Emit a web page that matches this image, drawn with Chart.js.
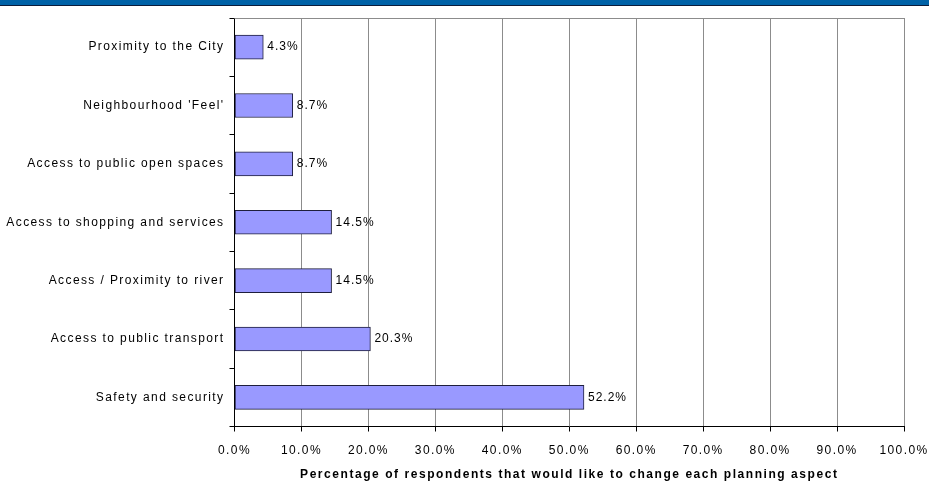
<!DOCTYPE html>
<html>
<head>
<meta charset="utf-8">
<script src="https://cdn.jsdelivr.net/npm/chart.js@4/dist/chart.umd.min.js"></script>
<style>
  body { margin: 0; background: #fff; }
  #wrap { position: relative; width: 929px; height: 485px; }
  #band { position: absolute; left: 0; top: 0; width: 929px; height: 5px; background: #0062a7; border-bottom: 1px solid #0c1c3a; }
</style>
</head>
<body>
<div id="wrap">
  <canvas id="chart"></canvas>
  <div id="band"></div>
</div>
<script>
// categories top -> bottom
const categories = [
  "Proximity to the City",
  "Neighbourhood 'Feel'",
  "Access to public open spaces",
  "Access to shopping and services",
  "Access / Proximity to river",
  "Access to public transport",
  "Safety and security"
];
const percentValues = [4.3, 8.7, 8.7, 14.5, 14.5, 20.3, 52.2];
const xTicks = [0, 10, 20, 30, 40, 50, 60, 70, 80, 90, 100];
const axisTitle = "Percentage of respondents that would like to change each planning aspect";

const FONT = "'Liberation Sans', Arial, sans-serif";

// letter spacing gets reset when the canvas is resized, so set it again before layout and draw
const spacing = {
  id: "spacing",
  beforeLayout(chart) { chart.ctx.letterSpacing = "1.4px"; },
  beforeDraw(chart) { chart.ctx.letterSpacing = "1.4px"; }
};

// value labels next to the bars + top border + axis title
const extras = {
  id: "extras",
  afterDatasetsDraw(chart) {
    const ctx = chart.ctx;
    const meta = chart.getDatasetMeta(0);
    ctx.save();
    ctx.letterSpacing = "1px";
    ctx.font = "12px " + FONT;
    ctx.fillStyle = "#000";
    ctx.textAlign = "left";
    ctx.textBaseline = "middle";
    meta.data.forEach((bar, i) => {
      ctx.fillText(percentValues[i].toFixed(1) + "%", bar.x + 4, bar.y);
    });
    ctx.restore();
  },
  afterDraw(chart) {
    const ctx = chart.ctx;
    const a = chart.chartArea;
    ctx.save();
    ctx.strokeStyle = "#8c8c8c";
    ctx.lineWidth = 1;
    ctx.beginPath();
    ctx.moveTo(a.left, Math.round(a.top) + 0.5);
    ctx.lineTo(a.right, Math.round(a.top) + 0.5);
    ctx.stroke();
    ctx.letterSpacing = "1.55px";
    ctx.font = "bold 12px " + FONT;
    ctx.fillStyle = "#000";
    ctx.textAlign = "center";
    ctx.textBaseline = "middle";
    ctx.fillText(axisTitle, (a.left + a.right) / 2, 475);
    ctx.restore();
  }
};

new Chart(document.getElementById("chart"), {
  type: "bar",
  data: {
    labels: categories,
    datasets: [{
      data: percentValues,
      backgroundColor: "#9999ff",
      borderColor: "#1e1e3c",
      borderWidth: 1,
      borderSkipped: false,
      barThickness: 24
    }]
  },
  plugins: [spacing, extras],
  options: {
    indexAxis: "y",
    responsive: true,
    maintainAspectRatio: false,
    animation: false,
    layout: { padding: { top: 18, right: 25, left: 0, bottom: 0 } },
    plugins: { legend: { display: false }, tooltip: { enabled: false } },
    scales: {
      x: {
        min: 0,
        max: 100,
        afterBuildTicks(scale) { scale.ticks = xTicks.map(v => ({ value: v })); },
        afterFit(scale) {
          scale.height = 58.5;
          scale.paddingLeft = 0;
          scale.paddingRight = 0;
        },
        ticks: {
          font: { family: FONT, size: 12 },
          color: "#000",
          padding: 12,
          maxRotation: 0,
          callback: v => v.toFixed(1) + "%"
        },
        grid: { color: "#8c8c8c", tickColor: "#000", tickLength: 5, drawTicks: true },
        border: { color: "#000", width: 1 }
      },
      y: {
        afterFit(scale) { scale.width = 234.5; },
        ticks: {
          font: { family: FONT, size: 12 },
          color: "#000",
          padding: 5
        },
        grid: { drawOnChartArea: false, tickColor: "#000", tickLength: 5, offset: true },
        border: { color: "#000", width: 1 }
      }
    }
  }
});
</script>
</body>
</html>
